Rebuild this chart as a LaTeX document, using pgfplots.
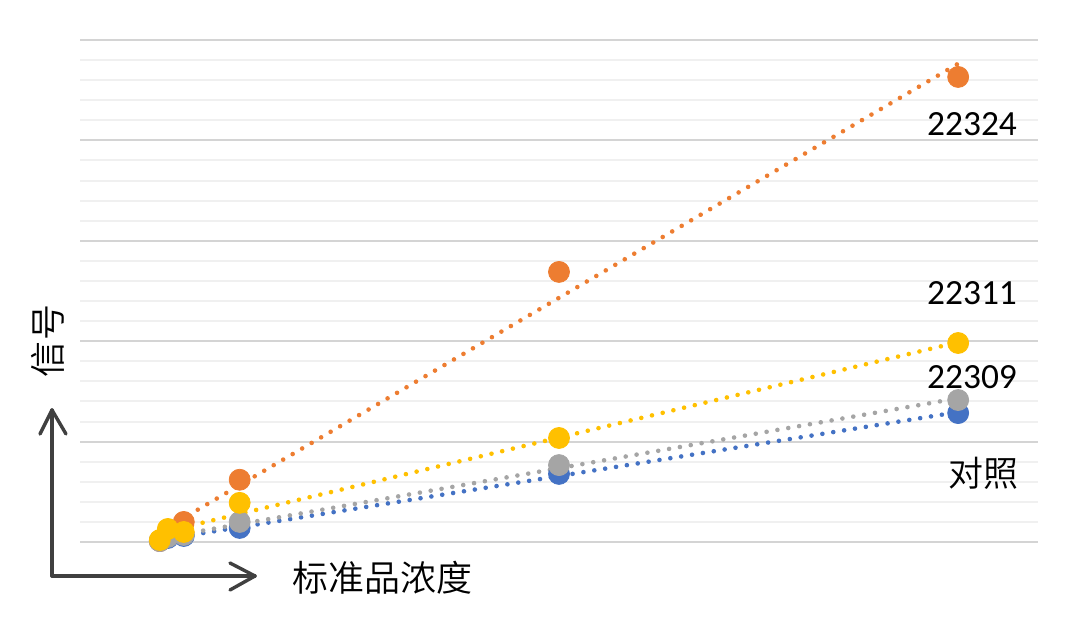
\documentclass[border=0pt]{standalone}
\usepackage{pgfplots}
\pgfplotsset{compat=1.18}
\usepackage{fontspec}
\setmainfont{Carlito}
\newfontfamily\cjk{Noto Sans CJK SC}[UprightFont={* DemiLight}]
\definecolor{cblue}{HTML}{4472C4}
\definecolor{corange}{HTML}{ED7D31}
\definecolor{cgray}{HTML}{A5A5A5}
\definecolor{cyellow}{HTML}{FFC000}
\definecolor{majg}{HTML}{D4D4D4}
\definecolor{ming}{HTML}{F0F0F0}
\definecolor{arr}{HTML}{404040}
\begin{document}
\begin{tikzpicture}[x=1pt,y=1pt]
\useasboundingbox (0,0) rectangle (540,308);
\begin{axis}[
  at={(40pt,37pt)}, anchor=south west,
  width=479pt, height=251pt, scale only axis,
  xmin=-5, xmax=55, ymin=0, ymax=25,
  axis line style={draw=none},
  xtick=\empty,
  ytick={0,5,...,25}, minor ytick={1,2,3,4,6,7,8,9,11,12,13,14,16,17,18,19,21,22,23,24},
  yticklabels={},
  major tick length=0pt, minor tick length=0pt,
  ymajorgrids, yminorgrids,
  major grid style={draw=majg, line width=1.1pt},
  minor grid style={draw=ming, line width=1pt},
  clip=false,
  trend/.style={line width=2.3pt, line cap=round, dash pattern=on 0pt off 5.5pt, no marks},
  pts/.style={only marks, mark=*, mark size=5.25pt},
]
% markers
\addplot[pts, cblue, mark options={fill=cblue, draw=cblue}] coordinates {(0,0.05)(0.5,0.2)(1.5,0.3)(5,0.7)(25,3.39)(50,6.42)};
\addplot[pts, corange, mark options={fill=corange, draw=corange}] coordinates {(0,0.05)(0.5,0.5)(1.5,1.0)(5,3.1)(25,13.45)(50,23.16)};
\addplot[pts, cgray, mark options={fill=cgray, draw=cgray}] coordinates {(0,0.05)(0.5,0.25)(1.5,0.35)(5,1.0)(25,3.83)(50,7.07)};
\addplot[pts, cyellow, mark options={fill=cyellow, draw=cyellow}] coordinates {(0,0.1)(0.5,0.65)(1.5,0.5)(5,1.95)(25,5.18)(50,9.91)};
% trendlines
\addplot[trend, cblue] coordinates {(0,0.10)(50,6.47)};
\addplot[trend, corange] coordinates {(0,0.50)(50,23.82)};
\addplot[trend, cgray] coordinates {(0,0.19)(50,7.16)};
\addplot[trend, cyellow] coordinates {(0,0.45)(50,9.95)};
\end{axis}
% labels
\node[font=\fontsize{17.7}{20}\selectfont] at (486,246) {22324};
\node[font=\fontsize{17.7}{20}\selectfont] at (486,161.5) {22311};
\node[font=\fontsize{17.7}{20}\selectfont] at (486,119.5) {22309};
\node[font=\cjk\fontsize{17.5}{20}\selectfont] at (491.5,71.5) {对照};
\node[font=\cjk\fontsize{18}{20}\selectfont] at (191,19) {标准品浓度};
\node[font=\cjk\fontsize{18}{20}\selectfont, rotate=90] at (24,137.5) {信号};
% arrows
\draw[arr, line width=1.7pt, line cap=round, line join=round] (26,20) -- (26,103);
\draw[arr, line width=1.7pt, line cap=round, line join=round] (20,91) -- (26,103) -- (33,91);
\draw[arr, line width=1.7pt, line cap=round, line join=round] (26,20) -- (127.5,20);
\draw[arr, line width=1.7pt, line cap=round, line join=round] (115,26.5) -- (127.5,20) -- (115,13);
\end{tikzpicture}
\end{document}
